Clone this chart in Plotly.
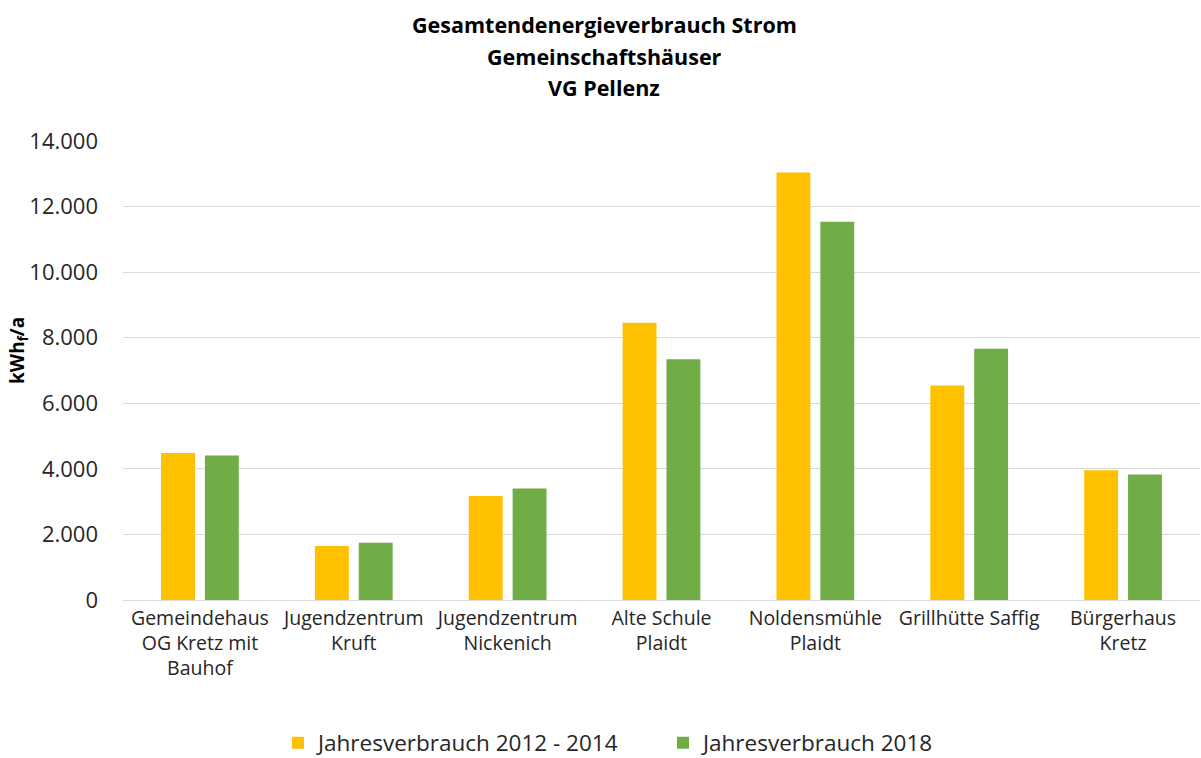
import plotly.graph_objects as go

categories = [
    "Gemeindehaus<br>OG Kretz mit<br>Bauhof",
    "Jugendzentrum<br>Kruft",
    "Jugendzentrum<br>Nickenich",
    "Alte Schule<br>Plaidt",
    "Noldensmühle<br>Plaidt",
    "Grillhütte Saffig",
    "Bürgerhaus<br>Kretz",
]
series_names = ["Jahresverbrauch 2012 - 2014", "Jahresverbrauch 2018"]
values_2012_2014 = [4480, 1650, 3170, 8460, 13040, 6540, 3960]
values_2018 = [4410, 1750, 3400, 7340, 11540, 7660, 3830]
y_ticks = [0, 2000, 4000, 6000, 8000, 10000, 12000, 14000]
title_lines = ["Gesamtendenergieverbrauch Strom", "Gemeinschaftshäuser", "VG Pellenz"]

colors = ["#FFC000", "#70AD47"]
FONT = "Open Sans"
W, H = 1201, 758
ML, MR, MT, MB = 123, 1, 141, 158
PH = H - MT - MB
PW = W - ML - MR


def py(p):
    return (H - MB - p) / PH


def px(p):
    return (p - ML) / PW


fig = go.Figure()
for name, vals, col in zip(series_names, [values_2012_2014, values_2018], colors):
    fig.add_trace(go.Bar(x=categories, y=vals, name=name, marker_color=col,
                         marker_line_width=0))

annotations = []
for i, line in enumerate(title_lines):
    annotations.append(dict(text=f"<b>{line}</b>", x=px(604), y=py(24 + 32 * i),
                            xref="paper", yref="paper", showarrow=False,
                            xanchor="center", yanchor="middle",
                            font=dict(size=21.5, family=FONT, color="#000000")))
annotations.append(dict(text="<b>kWh<sub>f</sub>/a</b>", x=px(18), y=py(351),
                        xref="paper", yref="paper", showarrow=False, textangle=-90,
                        xanchor="center", yanchor="middle",
                        font=dict(size=19, family=FONT, color="#000000")))

fig.update_layout(
    width=W, height=H,
    margin=dict(l=ML, r=MR, t=MT, b=MB, autoexpand=False),
    paper_bgcolor="white", plot_bgcolor="white",
    separators=",.",
    barmode="group", bargap=0.43, bargroupgap=0.227,
    font=dict(family=FONT, color="#262626"),
    showlegend=True,
    legend=dict(orientation="h", x=px(663), xref="paper", xanchor="center",
                y=py(743), yanchor="middle",
                font=dict(size=22.5, family=FONT, color="#262626"),
                itemwidth=30, traceorder="normal", entrywidth=340),
    annotations=annotations,
)

fig.update_yaxes(range=[0, 14000], tickvals=y_ticks, tickformat=",d",
                 showgrid=True, gridcolor="#D9D9D9", gridwidth=1.3,
                 zeroline=False, showline=False, ticks="",
                 tickfont=dict(size=22, family=FONT, color="#262626"),
                 ticklabelstandoff=24)
fig.update_xaxes(showline=True, linecolor="#D9D9D9", linewidth=1.3, ticks="",
                 tickfont=dict(size=19.5, family=FONT, color="#262626"),
                 tickangle=0)

fig.write_html("out.html", config={"displayModeBar": False},
               post_script="document.body.style.margin='0px';")
